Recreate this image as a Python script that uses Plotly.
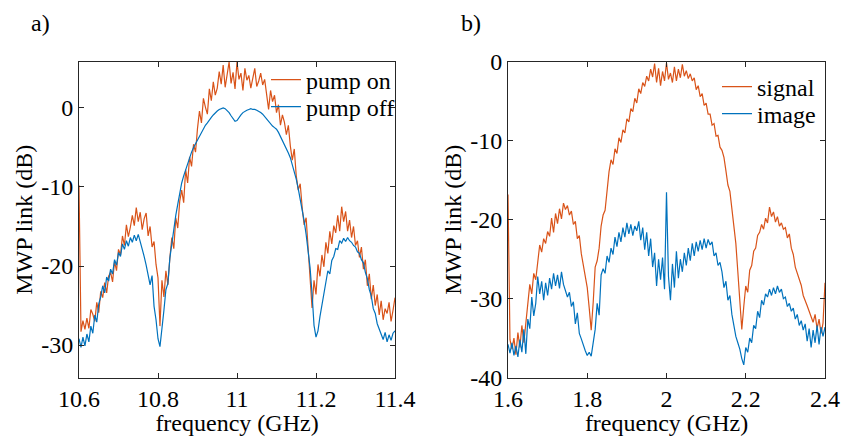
import plotly.graph_objects as go

# ---------------- data ----------------
# frequency sampling (GHz), 5 MHz step
freq_a = [round(10.6 + 0.005 * i, 3) for i in range(161)]
freq_b = [round(1.6 + 0.005 * i, 3) for i in range(161)]

pump_on = [
    -9.8, -28.3, -26.9, -28.0, -26.6, -27.9, -25.5, -26.1, -27.0, -24.6,
    -25.9, -23.2, -24.0, -22.1, -23.4, -21.3, -20.8, -22.0, -19.4, -20.6,
    -17.9, -18.6, -16.2, -17.4, -14.8, -16.3, -15.1, -13.6, -14.9, -12.6,
    -14.4, -13.2, -15.4, -14.0, -13.3, -16.2, -15.0, -17.6, -16.9, -19.8,
    -21.5, -27.6, -21.8, -23.9, -20.6, -22.4, -19.0, -16.4, -17.8, -13.9,
    -15.2, -11.8, -10.4, -12.0, -7.8, -9.5, -6.2, -7.4, -4.6, -5.6,
    -2.6, -0.4, -1.9, 1.2, 0.1, -0.8, 2.4, 0.9, 3.3, 1.6,
    2.5, 4.6, 3.0, 5.4, 2.6, 4.2, 5.8, 3.1, 4.5, 2.4,
    5.8, 3.6, 4.4, 2.2, 5.0, 3.5, 4.1, 2.5, 3.6, 5.0,
    2.7, 3.4, 4.4, 2.9, 3.6, 1.4, -0.2, 2.2, 0.8, 1.6,
    -0.6, 0.4, -2.2, -0.9, -1.8, -3.4, -2.2, -4.8, -6.6, -5.2,
    -8.6, -10.4, -9.6, -12.6, -14.8, -13.9, -17.6, -20.4, -25.3, -21.8,
    -23.6, -19.8, -21.3, -18.6, -20.1, -17.0, -18.4, -15.6, -17.2, -14.9,
    -15.8, -13.6, -15.6, -12.5, -14.4, -13.1, -15.6, -14.2, -16.4, -15.0,
    -17.4, -16.8, -18.9, -17.6, -20.4, -19.2, -22.5, -21.0, -24.2, -22.4,
    -25.0, -23.6, -26.2, -24.4, -26.8, -25.4, -26.0, -24.6, -27.0, -25.6,
    -24.0,
]

pump_off = [
    -29.2, -30.3, -29.0, -30.1, -28.6, -29.6, -27.6, -28.5, -26.2, -27.1,
    -24.8, -23.9, -22.5, -23.4, -21.4, -21.9, -20.4, -21.0, -19.2, -19.9,
    -18.3, -18.8, -17.2, -17.9, -16.8, -17.5, -16.4, -17.0, -16.1, -16.8,
    -16.0, -16.9, -17.6, -18.8, -19.9, -21.0, -22.4, -21.2, -25.1, -26.8,
    -29.2, -30.2, -27.4, -25.6, -23.0, -22.2, -19.0, -17.0, -15.2, -13.6,
    -12.2, -10.6, -9.5, -8.6, -7.8, -7.0, -6.2, -5.6, -5.0, -4.5,
    -4.0, -3.5, -3.0, -2.6, -2.2, -1.9, -1.5, -1.2, -0.9, -0.6,
    -0.4, -0.2, -0.05, 0.0, -0.1, -0.3, -0.6, -1.0, -1.4, -1.7,
    -1.6, -1.2, -0.9, -0.6, -0.4, -0.3, -0.2, -0.1, -0.2, -0.2,
    -0.3, -0.4, -0.6, -0.8, -1.1, -1.4, -1.8, -2.0, -2.3, -2.5,
    -2.7, -3.1, -3.6, -4.0, -4.5, -5.1, -5.7, -6.3, -7.1, -8.0,
    -9.0, -10.2, -11.5, -12.8, -14.3, -16.0, -18.0, -20.2, -23.5, -27.5,
    -29.0, -28.2, -26.4, -25.0, -23.4, -22.0, -20.6, -21.0, -19.3, -18.8,
    -17.8, -17.9, -16.8, -17.1, -16.5, -16.9, -16.4, -16.8, -17.0, -17.4,
    -17.6, -18.2, -18.4, -19.2, -19.6, -20.8, -21.6, -23.0, -23.8, -25.4,
    -26.0, -27.3, -27.9, -28.6, -29.3, -28.4, -29.6, -28.7, -29.4, -28.5,
    -28.2,
]

signal = [
    -16.8, -35.2, -36.4, -35.0, -37.1, -34.3, -36.2, -33.4, -35.6, -32.8,
    -30.4, -28.2, -29.4, -26.8, -27.6, -25.4, -23.2, -24.1, -22.4, -23.0,
    -21.5, -22.1, -19.8, -21.6, -19.2, -20.5, -18.6, -19.9, -17.9, -18.7,
    -18.2, -19.4, -18.9, -20.6, -20.2, -22.4, -22.0, -24.3, -25.6, -27.2,
    -28.6, -31.2, -34.0, -30.5, -26.0, -25.2, -23.6, -20.8, -19.4, -18.8,
    -16.2, -13.9, -12.4, -13.0, -11.0, -11.6, -9.6, -10.2, -8.6, -9.0,
    -7.2, -7.6, -5.9, -6.3, -4.6, -5.2, -3.4, -4.0, -2.6, -3.1,
    -1.8, -2.4, -0.9, -1.9, -0.2, -2.6, -0.8, -3.0, -1.2, -2.4,
    -0.1, -2.2, -1.4, -2.6, -0.6, -2.4, -0.9, -2.0, -0.3, -1.8,
    -1.1, -2.1, -1.5, -2.4, -2.0, -3.5, -3.0, -4.4, -4.0, -5.5,
    -5.2, -6.6, -6.6, -8.0, -7.8, -9.4, -9.3, -10.8, -11.2, -12.1,
    -13.8, -15.6, -16.4, -18.6, -21.0, -23.0, -26.6, -30.5, -33.9, -31.0,
    -28.4, -29.2, -26.4, -25.8, -24.0, -23.6, -22.0, -21.6, -20.6, -21.2,
    -19.8, -20.4, -18.4, -19.6, -19.0, -20.3, -19.6, -20.8, -20.4, -21.2,
    -21.0, -22.3, -21.8, -23.6, -24.4, -26.0, -26.8, -27.6, -28.3, -29.6,
    -30.4, -30.9, -31.6, -32.4, -33.0, -32.0, -33.8, -32.6, -34.4, -33.1,
    -28.0,
]

image = [
    -35.8, -36.9, -35.6, -37.2, -36.0, -37.4, -35.2, -36.8, -33.9, -37.0,
    -32.6, -33.8, -29.8, -32.2, -30.6, -27.2, -29.4, -27.8, -30.2, -28.0,
    -29.6, -27.4, -28.8, -26.8, -28.4, -27.0, -28.7, -26.6, -28.2, -28.9,
    -29.8, -29.2, -31.0, -30.4, -33.2, -31.8, -34.4, -35.1, -36.0, -36.6,
    -37.2, -36.8, -37.3, -35.2, -33.9, -30.6, -32.1, -27.0, -26.2, -26.8,
    -24.6, -25.4, -23.6, -24.4, -22.2, -23.4, -21.6, -22.8, -21.0, -22.2,
    -20.4, -21.8, -20.6, -22.0, -20.8, -21.4, -20.2, -22.6, -21.0, -23.8,
    -21.6, -24.6, -22.4, -26.0, -24.2, -28.4, -25.0, -27.6, -24.8, -28.8,
    -16.5, -27.2, -30.2, -25.6, -28.6, -24.0, -27.4, -25.0, -26.6, -24.2,
    -25.8, -23.6, -25.2, -23.0, -24.6, -22.8, -24.0, -22.6, -23.8, -22.4,
    -23.6, -22.5, -23.2, -22.8, -24.6, -24.2, -25.8, -25.4, -26.6, -28.6,
    -27.8, -30.2, -29.6, -32.0, -33.4, -34.8, -35.6, -36.4, -37.6, -38.4,
    -36.2, -36.8, -35.0, -35.6, -33.4, -33.8, -31.6, -32.4, -30.2, -30.8,
    -29.4, -29.8, -28.8, -29.6, -28.6, -29.4, -28.4, -29.2, -28.8, -30.0,
    -29.8, -31.0, -30.6, -31.6, -31.2, -32.6, -32.0, -33.4, -32.8, -34.0,
    -33.2, -35.4, -33.8, -36.2, -34.0, -35.6, -33.4, -35.8, -33.6, -34.8,
    -33.6,
]

xticks_a = [10.6, 10.8, 11.0, 11.2, 11.4]
xtick_text_a = ["10.6", "10.8", "11", "11.2", "11.4"]
yticks_a = [-30, -20, -10, 0]
ytick_text_a = ["-30", "-20", "-10", "0"]
xticks_b = [1.6, 1.8, 2.0, 2.2, 2.4]
xtick_text_b = ["1.6", "1.8", "2", "2.2", "2.4"]
yticks_b = [-40, -30, -20, -10, 0]
ytick_text_b = ["-40", "-30", "-20", "-10", "0"]

# ---------------- styling ----------------
ORANGE = "#D95319"
BLUE = "#0072BD"
AX = "#262626"
FONT = "Liberation Serif"
FS = 24
W, H = 849, 436

fig = go.Figure()
fig.add_trace(go.Scatter(x=freq_a, y=pump_on, mode="lines", name="pump on",
                         line=dict(color=ORANGE, width=1.2), xaxis="x", yaxis="y",
                         legend="legend", showlegend=True))
fig.add_trace(go.Scatter(x=freq_a, y=pump_off, mode="lines", name="pump off",
                         line=dict(color=BLUE, width=1.2), xaxis="x", yaxis="y",
                         legend="legend2", showlegend=True))
fig.add_trace(go.Scatter(x=freq_b, y=signal, mode="lines", name="signal",
                         line=dict(color=ORANGE, width=1.2), xaxis="x2", yaxis="y2",
                         legend="legend3", showlegend=True))
fig.add_trace(go.Scatter(x=freq_b, y=image, mode="lines", name="image",
                         line=dict(color=BLUE, width=1.2), xaxis="x2", yaxis="y2",
                         legend="legend4", showlegend=True))

top, bottom = 62, 377.5
ydom = [1 - bottom / H, 1 - top / H]

common_axis = dict(showline=True, linecolor=AX, linewidth=1, mirror="ticks",
                   ticks="inside", ticklen=5, tickcolor=AX, tickwidth=1,
                   showgrid=False, zeroline=False, automargin=False,
                   tickfont=dict(family=FONT, size=FS, color="black"))


def xtitle():
    return dict(text="frequency (GHz)", standoff=4, font=dict(family=FONT, size=FS))


def ytitle():
    return dict(text="MWP link (dB)", standoff=1, font=dict(family=FONT, size=FS))


def leg(xpx, ypx):
    return dict(x=xpx / W, y=1 - ypx / H, xanchor="left", yanchor="middle",
                bgcolor="rgba(0,0,0,0)", borderwidth=0, itemwidth=30,
                font=dict(family=FONT, size=FS), visible=True)


fig.update_layout(
    width=W, height=H,
    showlegend=True,
    margin=dict(l=0, r=0, t=0, b=0, autoexpand=False),
    paper_bgcolor="white", plot_bgcolor="white",
    font=dict(family=FONT, size=FS, color="black"),
    xaxis=dict(domain=[79 / W, 395 / W], range=[10.6, 11.4],
               tickvals=xticks_a, ticktext=xtick_text_a, anchor="y",
               title=xtitle(), **common_axis),
    yaxis=dict(domain=ydom, range=[-34.1, 5.8], anchor="x",
               tickvals=yticks_a, ticktext=ytick_text_a,
               title=ytitle(), **common_axis),
    xaxis2=dict(domain=[508 / W, 825 / W], range=[1.6, 2.4],
                tickvals=xticks_b, ticktext=xtick_text_b, anchor="y2",
                title=xtitle(), **common_axis),
    yaxis2=dict(domain=ydom, range=[-40, 0], anchor="x2",
                tickvals=yticks_b, ticktext=ytick_text_b,
                title=ytitle(), **common_axis),
    legend=leg(266, 80),
    legend2=leg(266, 107),
    legend3=leg(717, 87),
    legend4=leg(717, 114),
    annotations=[
        dict(text="a)", xref="paper", yref="paper", x=40 / W, y=1 - 23 / H,
             xanchor="center", yanchor="middle", showarrow=False,
             font=dict(family=FONT, size=FS)),
        dict(text="b)", xref="paper", yref="paper", x=471 / W, y=1 - 23 / H,
             xanchor="center", yanchor="middle", showarrow=False,
             font=dict(family=FONT, size=FS)),
    ],
)

fig.write_html("out.html",
               config={"displayModeBar": False},
               post_script="document.body.style.margin='0';document.body.style.overflow='hidden';")
